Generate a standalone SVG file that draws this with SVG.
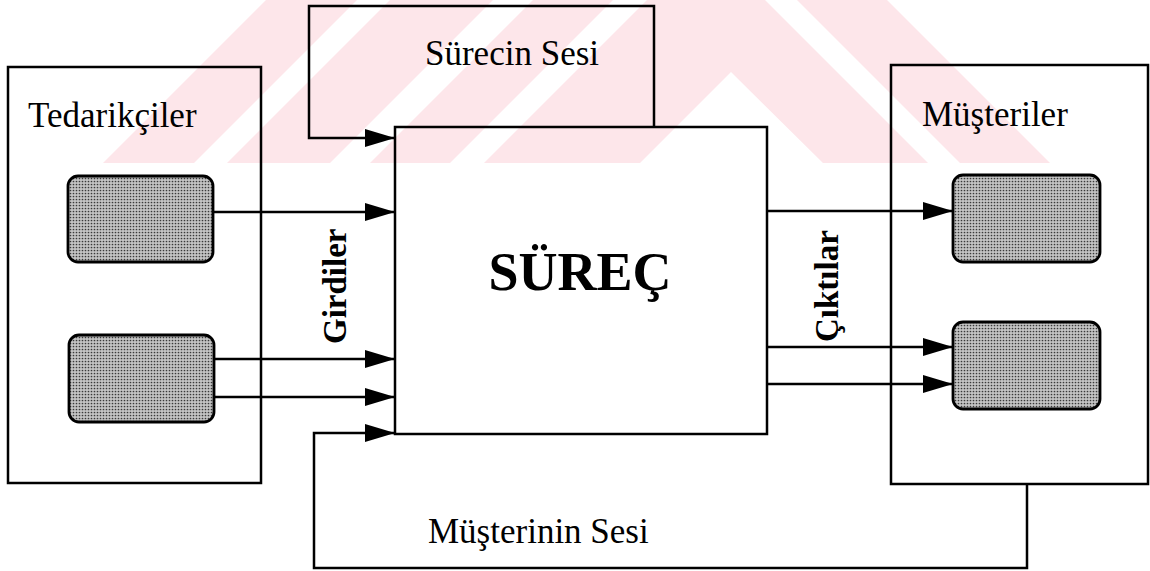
<svg xmlns="http://www.w3.org/2000/svg" width="1150" height="571" viewBox="0 0 1150 571">
  <style>
    .box { fill: none; stroke: #000; stroke-width: 2.5; }
    .rr { fill: url(#dots); stroke: #000; stroke-width: 2.8; }
    .ln { fill: none; stroke: #000; stroke-width: 2.5; }
    .arr { fill: none; stroke: #000; stroke-width: 2.5; marker-end: url(#ah); }
    .t { font-family: "Liberation Serif", "Times New Roman", serif; font-size: 35px; fill: #000; }
    .tb { font-family: "Liberation Serif", "Times New Roman", serif; font-weight: bold; fill: #000; }
    .wm { fill: #fde6ea; }
  </style>
  <defs>
    <marker id="ah" viewBox="0 0 30 18" refX="30" refY="9" markerWidth="30" markerHeight="18" markerUnits="userSpaceOnUse" orient="auto">
      <path d="M0,0 L30,9 L0,18 Z" fill="#000"/>
    </marker>
    <pattern id="dots" width="3" height="3" patternUnits="userSpaceOnUse">
      <rect width="3" height="3" fill="#c4c4c4"/>
      <circle cx="1.5" cy="1.5" r="0.85" fill="#3a3a3a"/>
    </pattern>
  </defs>

  <rect width="1150" height="571" fill="#fff"/>

  <g id="watermark">
    <polygon class="wm" points="103,163 194,163 357,0 266,0"/>
    <polygon class="wm" points="227,163 330,163 493,0 390,0"/>
    <polygon class="wm" points="370,163 450,163 613,0 533,0"/>
    <polygon class="wm" points="484,163 640,163 731,72 823,163 928,163 765,0 647,0"/>
    <polygon class="wm" points="960,163 1050,163 887,0 797,0"/>
  </g>

  <g id="tedarikciler">
    <rect class="box" x="8" y="67" width="253" height="416"/>
    <text class="t" x="28" y="127">Tedarikçiler</text>
    <rect class="rr" x="68" y="176" width="145" height="86" rx="10"/>
    <rect class="rr" x="69" y="335" width="145" height="87" rx="10"/>
  </g>

  <g id="musteriler">
    <rect class="box" x="891" y="65" width="257" height="419"/>
    <text class="t" x="922" y="126">Müşteriler</text>
    <rect class="rr" x="953" y="175" width="147" height="87" rx="10"/>
    <rect class="rr" x="953" y="322" width="147" height="87" rx="10"/>
  </g>

  <g id="surec">
    <rect class="box" x="395" y="127" width="372" height="307"/>
    <text class="tb" x="580" y="290" font-size="54" text-anchor="middle">SÜREÇ</text>
  </g>

  <g id="surecin-sesi">
    <text class="t" x="425" y="65">Sürecin Sesi</text>
  </g>

  <g id="musterinin-sesi">
    <text class="t" x="428" y="543">Müşterinin Sesi</text>
  </g>

  <g id="girdiler">
    <text class="tb" font-size="33" transform="translate(346,344) rotate(-90)">Girdiler</text>
  </g>

  <g id="ciktilar">
    <text class="tb" font-size="33" transform="translate(838,342) rotate(-90)">Çıktılar</text>
  </g>

  <g id="connectors">
    <path class="arr" d="M654,127 L654,6 L309,6 L309,138 L395,138"/>
    <path class="arr" d="M1027,484 L1027,568 L314,568 L314,433 L395,433"/>
    <path class="arr" d="M213,212 L395,212"/>
    <path class="arr" d="M214,359 L395,359"/>
    <path class="arr" d="M214,397 L395,397"/>
    <path class="arr" d="M767,211 L953,211"/>
    <path class="arr" d="M767,347 L953,347"/>
    <path class="arr" d="M767,384 L953,384"/>
  </g>
</svg>
